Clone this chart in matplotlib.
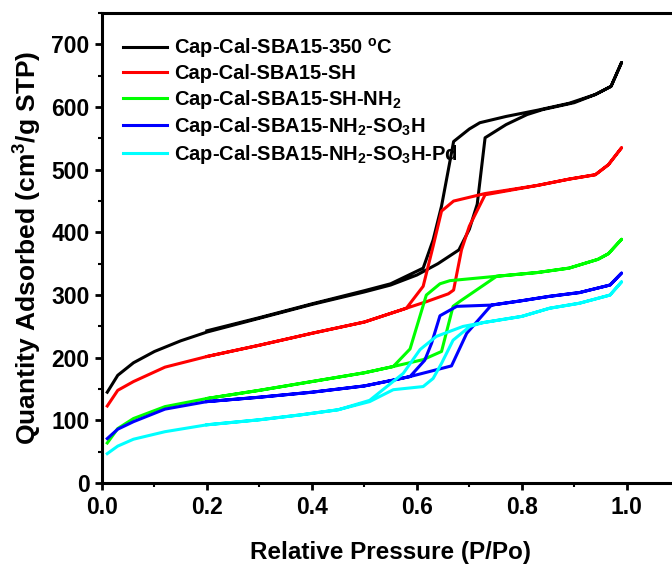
import numpy as np
import matplotlib
matplotlib.use('Agg')
import matplotlib.pyplot as plt

plt.rcParams['font.family'] = ['Liberation Sans', 'DejaVu Sans']
plt.rcParams['font.weight'] = 'bold'
plt.rcParams['mathtext.default'] = 'regular'

# isotherms: adsorption branch then desorption branch (P/Po, cm3/g STP)
labels = ['Cap-Cal-SBA15-350 $^{o}$C',
          'Cap-Cal-SBA15-SH',
          'Cap-Cal-SBA15-SH-NH$_2$',
          'Cap-Cal-SBA15-NH$_2$-SO$_3$H',
          'Cap-Cal-SBA15-NH$_2$-SO$_3$H-Pd']
colors = ['#000000', '#ff0000', '#00ff00', '#0000ff', '#00ffff']

cal_ads_x = [0.01, 0.03, 0.06, 0.1, 0.15, 0.2, 0.3, 0.4, 0.5, 0.55, 0.6, 0.64, 0.68, 0.70, 0.715, 0.73,
             0.77, 0.81, 0.84, 0.9, 0.94, 0.97, 0.99]
cal_ads_y = [145, 172, 192, 210, 227, 241, 263, 285, 305, 316, 332, 350, 372, 405, 445, 551,
             572, 588, 596, 607, 620, 633, 671]
cal_des_x = [0.99, 0.97, 0.94, 0.89, 0.83, 0.77, 0.72, 0.70, 0.67, 0.66, 0.647, 0.631, 0.612,
             0.55, 0.5, 0.4, 0.3, 0.2]
cal_des_y = [671, 633, 620, 606, 595, 585, 575, 565, 545, 500, 442, 388, 343,
             318, 307, 286, 264, 243]

sh_ads_x = [0.01, 0.03, 0.06, 0.12, 0.2, 0.3, 0.4, 0.5, 0.58, 0.62, 0.66, 0.67, 0.685, 0.70, 0.73,
            0.83, 0.89, 0.94, 0.965, 0.99]
sh_ads_y = [123, 148, 162, 185, 202, 220, 239, 257, 279, 290, 302, 308, 372, 410, 460,
            475, 485, 492, 508, 535]
sh_des_x = [0.99, 0.965, 0.94, 0.89, 0.83, 0.73, 0.67, 0.647, 0.631, 0.612, 0.58, 0.5, 0.4, 0.3, 0.2]
sh_des_y = [535, 508, 492, 485, 475, 462, 450, 434, 378, 314, 279, 257, 239, 220, 202]

nh2_ads_x = [0.01, 0.03, 0.06, 0.12, 0.2, 0.3, 0.4, 0.5, 0.555, 0.612, 0.647, 0.669, 0.682, 0.752,
             0.83, 0.89, 0.945, 0.965, 0.99]
nh2_ads_y = [64, 87, 103, 122, 135, 148, 162, 176, 186, 197, 210, 282, 290, 330,
             336, 343, 357, 366, 389]
nh2_des_x = [0.99, 0.965, 0.945, 0.89, 0.83, 0.752, 0.663, 0.644, 0.618, 0.587, 0.555, 0.5, 0.4, 0.3, 0.2]
nh2_des_y = [389, 366, 357, 343, 336, 330, 323, 318, 300, 214, 186, 176, 162, 148, 135]

so3h_ads_x = [0.01, 0.03, 0.06, 0.12, 0.2, 0.3, 0.4, 0.5, 0.56, 0.587, 0.666, 0.695, 0.742,
              0.8, 0.853, 0.91, 0.968, 0.99]
so3h_ads_y = [71, 86, 98, 118, 130, 137, 145, 155, 165, 170, 187, 239, 284,
              291, 298, 304, 316, 335]
so3h_des_x = [0.99, 0.968, 0.91, 0.853, 0.8, 0.742, 0.676, 0.644, 0.628, 0.615, 0.587, 0.5, 0.4, 0.3, 0.2]
so3h_des_y = [335, 316, 304, 298, 291, 284, 282, 267, 223, 196, 170, 155, 145, 137, 130]

pd_ads_x = [0.01, 0.03, 0.06, 0.12, 0.2, 0.3, 0.38, 0.45, 0.51, 0.555, 0.612, 0.631, 0.647, 0.669,
            0.701, 0.726, 0.8, 0.853, 0.91, 0.968, 0.99]
pd_ads_y = [47, 59, 70, 82, 93, 101, 109, 117, 130, 149, 154, 167, 191, 228,
            250, 256, 266, 279, 287, 300, 321]
pd_des_x = [0.99, 0.968, 0.91, 0.853, 0.8, 0.726, 0.688, 0.637, 0.606, 0.574, 0.51, 0.45, 0.38, 0.3, 0.2]
pd_des_y = [321, 300, 287, 279, 266, 256, 250, 234, 213, 175, 132, 117, 109, 101, 93]

series = [(cal_ads_x, cal_ads_y, cal_des_x, cal_des_y),
          (sh_ads_x, sh_ads_y, sh_des_x, sh_des_y),
          (nh2_ads_x, nh2_ads_y, nh2_des_x, nh2_des_y),
          (so3h_ads_x, so3h_ads_y, so3h_des_x, so3h_des_y),
          (pd_ads_x, pd_ads_y, pd_des_x, pd_des_y)]

fig = plt.figure(figsize=(6.72, 5.67), dpi=100)
ax = fig.add_axes([0.1518, 0.148, 0.859, 0.829])

for (ax_, ay_, dx_, dy_), lab, col in zip(series, labels, colors):
    x = list(ax_) + list(dx_)
    y = list(ay_) + list(dy_)
    ax.plot(x, y, color=col, lw=2.2, label=lab, solid_joinstyle='round')

ax.set_xlim(0, 1.1)
ax.set_ylim(0, 750)
ax.set_xticks([0.0, 0.2, 0.4, 0.6, 0.8, 1.0])
ax.set_xticks(np.arange(0.1, 1.1, 0.2), minor=True)
ax.set_yticks(np.arange(0, 701, 100))
ax.set_yticks(np.arange(50, 751, 100), minor=True)
ax.xaxis.set_major_formatter(matplotlib.ticker.FormatStrFormatter('%.1f'))

for s in ax.spines.values():
    s.set_linewidth(2.2)
ax.tick_params(which='major', direction='out', length=5, width=2, labelsize=16.5, pad=4)
ax.tick_params(which='minor', direction='out', length=3, width=1.5)

ax.set_xlabel('Relative Pressure (P/Po)', fontsize=17.5, fontweight='bold', labelpad=16)
ax.set_ylabel('Quantity Adsorbed (cm$^3$/g STP)', fontsize=19, fontweight='bold', labelpad=5)

ax.legend(loc='upper left', bbox_to_anchor=(0.005, 0.99), frameon=False,
          handlelength=2.2, handletextpad=0.35, labelspacing=0.22, borderaxespad=0.5,
          prop={'weight': 'bold', 'size': 14.5})

fig.savefig('out.png', dpi=100)
